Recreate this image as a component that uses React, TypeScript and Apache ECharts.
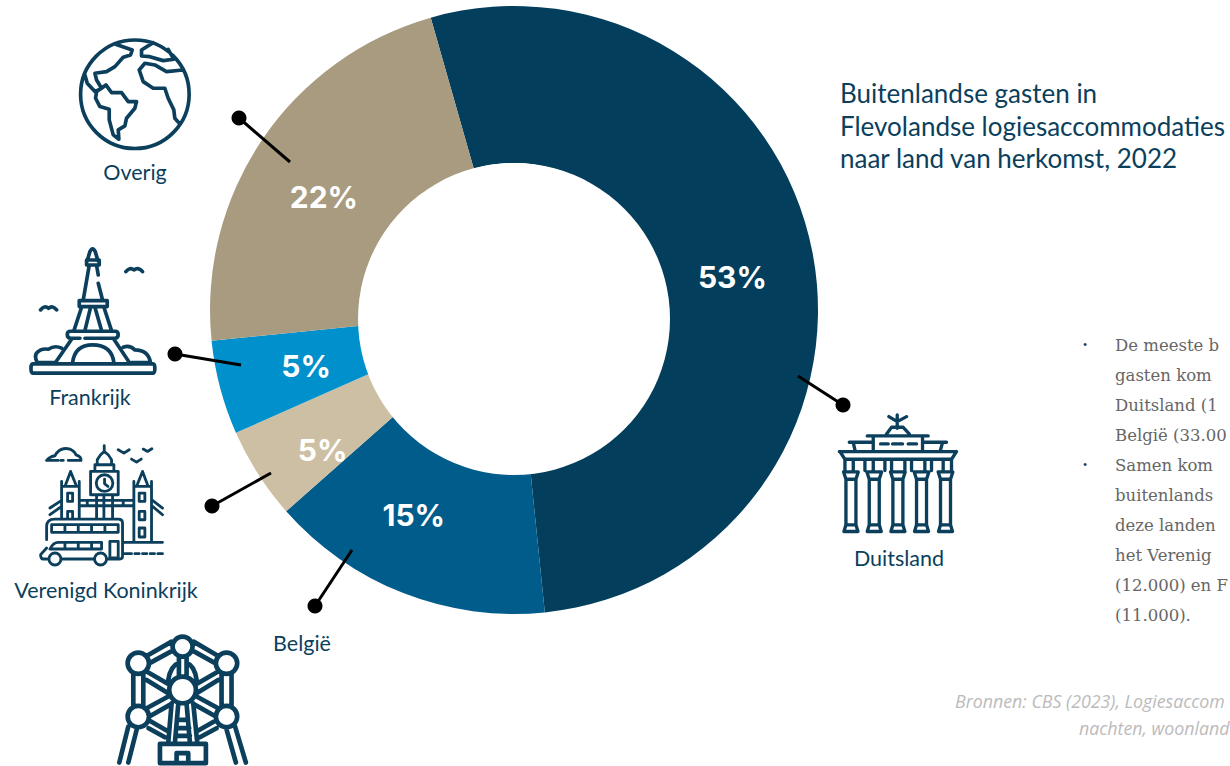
import React, { useEffect, useRef } from "react";
import * as echarts from "echarts";

const countries = ["Duitsland", "België", "Verenigd Koninkrijk", "Frankrijk", "Overig"];
const shares = [52.8, 15.1, 4.9, 5.0, 22.2];
const sliceColors = ["#033F5C", "#005C8A", "#CDBFA3", "#0090CC", "#A89B80"];
const labelOffsets = [[-6, 10], [-17, -8], [1, 17], [13, -2], [-1, 15]];
const titleLines = ["Buitenlandse gasten in", "Flevolandse logiesaccommodaties", "naar land van herkomst, 2022"];
const bodyLines = ["De meeste b", "gasten kom", "Duitsland (1", "België (33.00", "Samen kom", "buitenlands", "deze landen", "het Verenig", "(12.000) en F", "(11.000)."];
const sourceLines = ["Bronnen: CBS (2023), Logiesaccom", "nachten, woonland"];

const INK = "#0B3F5C";

const circ = (cx: number, cy: number, r: number) => `M${cx - r} ${cy}a${r} ${r} 0 1 0 ${2 * r} 0a${r} ${r} 0 1 0 ${-2 * r} 0Z`;
const box = (x1: number, y1: number, x2: number, y2: number) => `M${x1} ${y1}H${x2}V${y2}H${x1}Z`;

const globe = circ(405, 223, 163) +
  "M345 72L397 90L392 105L370 112L345 140L320 155L285 160L290 180L305 205L285 215L262 190L255 165" +
  "M305 205L318 195L335 218L365 218L385 245L410 245L405 265L380 295L375 318L355 330L357 358L340 345L328 300L328 268L300 260L287 235L290 215Z" +
  "M460 68L425 90L425 108L450 110L490 122L522 118L505 88" +
  "M548 150L500 155L465 135L435 130L418 150L430 185L460 205L495 205L505 235L522 270L525 295L540 312";

const eiffel = "M98 402H460Q465 402 465 416Q465 430 460 430H98Q93 430 93 416Q93 402 98 402Z" +
  "M262 92L270 65Q278 48 286 65L294 92" + box(260, 90, 298, 105) +
  "M268 106L250 210M290 106L295 135M295 160L308 210" + box(238, 212, 322, 230) +
  "M245 232L222 302M312 232L335 302M272 232L255 302M285 232L305 302" +
  "M240 304H345Q355 304 355 314Q355 325 345 325H255M240 325H212Q202 325 202 314Q202 304 212 304H240" +
  "M215 328L165 400M342 328L390 400M218 398Q225 345 278 345Q335 345 342 398" +
  "M165 398H112Q100 375 115 365Q125 355 145 358Q165 345 185 355M370 352Q390 345 405 360Q445 360 452 398H395" +
  "M378 125Q390 110 402 120Q415 110 428 125M122 240Q133 225 146 235Q158 225 170 240";

const london = "M140 692Q150 680 165 678Q180 650 210 658Q225 665 228 675Q245 680 243 692H205M190 692H183M175 692H140" +
  "M355 660L372 670L388 660M430 658L443 665L456 657M395 688L410 697L424 688" +
  "M313 648V668M292 705V690Q300 675 313 665Q328 675 335 690V705M285 705H342" + box(272, 725, 355, 795) + "M285 705V725M342 705V725" +
  circ(314, 760, 25) + "M314 748V762L324 770M290 795V865M312 795V865M338 795V865" +
  "M185 755V865M238 755V865M195 770L212 725L230 770M185 770H238" + box(203, 790, 218, 815) + "M203 865V845H218V865" +
  "M402 755V935M455 755V935M402 770H455M410 770L428 725L445 770" + box(418, 790, 435, 815) + box(418, 845, 435, 870) + box(418, 895, 435, 922) +
  "M240 812H400M240 828H400M262 812V828M370 812V828M150 835L185 812M150 855L185 830M458 812L488 835M458 830L488 855" +
  "M140 930V890Q140 868 165 868H355Q368 868 368 880V980Q368 988 360 988H325M280 988H188M145 988H130Q122 988 122 975L140 955" +
  circ(165, 988, 18) + circ(302, 988, 18) + box(155, 885, 355, 908) + "M195 885V908M235 885V908M275 885V908M315 885V908" +
  "M150 958H305V938H175Q160 938 150 958M195 938V958M235 938V958M275 938V958" + box(330, 935, 355, 985) +
  "M370 938H488M375 972H395M405 972H418M428 972H441M451 972H464M474 972H488";

const atomium = circ(248, 140, 30) + circ(115, 190, 32) + circ(380, 190, 32) + circ(115, 350, 32) + circ(380, 350, 32) + circ(248, 270, 40) +
  "M215 125L145 165M218 152L152 188M281 125L350 165M278 152L343 188" +
  "M100 222V318M130 222V318M365 222V318M395 222V318" +
  "M140 215L205 252M140 240L205 280M355 215L290 252M355 240L290 280" +
  "M205 290L140 325M215 312L148 350M290 290L355 325M280 312L348 350" +
  "M148 362L200 392M146 385L195 412M348 362L295 392M350 385L300 412" +
  "M85 380L58 488M112 382L85 488M378 382L408 488M405 378L438 488" +
  "M215 310L205 428M235 312L225 428M280 310L292 428M260 312L270 428M232 360H264M230 385H268M228 408H270" +
  box(180, 432, 318, 490) + "M230 490V460H265V490" +
  "M205 240Q212 198 235 190M290 240Q284 198 262 190M237 172V228M260 172V228";

const columnPath = (a: number, b: number) =>
  `M${a - 7} 306H${b + 7}L${b} 328H${a}ZM${a} 328V465M${b} 328V465M${a} 465H${b}L${b + 6} 485H${a - 6}Z`;
const gate = "M297 140L322 155L350 140M322 135V175M290 192L305 172H340L358 192M232 198H415M250 200V240M398 200V240" +
  "M178 217H250M398 217H470M190 218L195 240M458 218L452 240M148 245H500M150 245L165 268H485L500 245" +
  "M190 270V302M225 270V302M250 270V302M285 270V302M305 270V302M345 270V302M365 270V302M405 270V302M425 270V302M460 270V302M165 270V302M485 270V302" +
  columnPath(168, 198) + columnPath(238, 268) + columnPath(309, 339) + columnPath(380, 410) + columnPath(452, 482);
const gateDashes = "M272 222H295M308 222H338M355 222H380";

const icons: [string, string, number, number, number][] = [
  ["iconGlobe", globe, 0, 20, 11],
  ["iconEiffel", eiffel, 0, 230, 11],
  ["iconLondon", london, 0, 230, 8.5],
  ["iconAtomium", atomium, 100, 600, 14],
  ["iconGate", gate, 790, 370, 10],
  ["iconGateDashes", gateDashes, 790, 370, 10],
];
icons.forEach(([name, d]) => echarts.graphic.registerShape(name, echarts.graphic.extendPath(d, {})));

const leaders = [
  [843, 405, 798, 376],
  [315, 606, 352, 550],
  [212, 506, 271, 473],
  [175, 354, 241, 365],
  [239, 118, 290, 162],
];
const captions: [string, number, number][] = [
  ["Duitsland", 899, 558],
  ["België", 302, 643],
  ["Verenigd Koninkrijk", 106, 590],
  ["Frankrijk", 90, 397],
  ["Overig", 135, 172],
];

export default function App() {
  const ref = useRef<HTMLDivElement>(null);
  useEffect(() => {
    document.body.style.margin = "0";
    document.body.style.overflow = "hidden";
    const chart = echarts.init(ref.current!, undefined, { renderer: "svg" });
    const graphic: any[] = [];
    graphic.push({ type: "circle", z: 5, shape: { cx: 514, cy: 319, r: 156 }, style: { fill: "#fff" } });
    icons.forEach(([name, , x, y, lw]) => {
      graphic.push({ type: name, x, y, scaleX: 1 / 3, scaleY: 1 / 3, style: { fill: "none", stroke: INK, lineWidth: lw, lineJoin: "round", lineCap: "round" } });
    });
    leaders.forEach(([x1, y1, x2, y2]) => {
      graphic.push({ type: "line", z: 10, shape: { x1, y1, x2, y2 }, style: { stroke: "#000", lineWidth: 3 } });
      graphic.push({ type: "circle", z: 10, shape: { cx: x1, cy: y1, r: 7.5 }, style: { fill: "#000" } });
    });
    captions.forEach(([text, x, y]) => {
      graphic.push({ type: "text", x, y, style: { text, fill: INK, font: "21.5px Lato", align: "center", verticalAlign: "middle" } });
    });
    titleLines.forEach((text, i) => {
      graphic.push({ type: "text", x: 840, y: 93 + i * 32.5, style: { text, fill: INK, font: "26px Lato", align: "left", verticalAlign: "middle" } });
    });
    bodyLines.forEach((text, i) => {
      graphic.push({ type: "text", x: 1115, y: 345 + i * 30, style: { text, fill: "#666", font: "16.5px 'DejaVu Serif'", align: "left", verticalAlign: "middle" } });
    });
    [0, 4].forEach((i) => {
      graphic.push({ type: "text", x: 1085, y: 345 + i * 30, style: { text: "•", fill: "#333", font: "12px 'Liberation Serif'", align: "center", verticalAlign: "middle" } });
    });
    sourceLines.forEach((text, i) => {
      graphic.push({ type: "text", x: i === 0 ? 955 : 1079, y: 701 + i * 27, style: { text, fill: "#BBBBBB", font: "italic 17.8px 'Open Sans'", align: "left", verticalAlign: "middle" } });
    });
    chart.setOption({
      animation: false,
      backgroundColor: "#fff",
      series: [{
        type: "pie",
        center: [514, 310],
        radius: [147, 304],
        startAngle: 105.9,
        clockwise: true,
        silent: true,
        itemStyle: { borderWidth: 0 },
        labelLine: { show: false },
        data: countries.map((name, i) => ({
          name,
          value: shares[i],
          itemStyle: { color: sliceColors[i] },
          label: {
            show: true,
            position: "inside",
            formatter: `${Math.round(shares[i])}%`,
            color: "#fff",
            fontFamily: "Inter",
            fontWeight: "bold",
            fontSize: 30,
            offset: labelOffsets[i],
          },
        })),
      }],
      graphic,
    });
    return () => chart.dispose();
  }, []);
  return <div ref={ref} style={{ width: 1230, height: 766 }} />;
}
